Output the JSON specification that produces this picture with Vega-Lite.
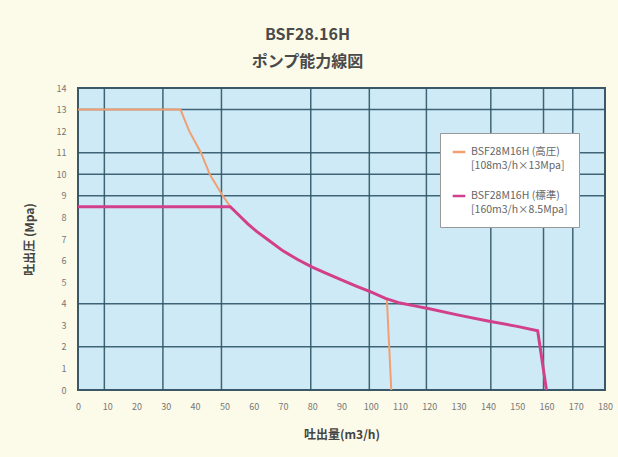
{
  "$schema": "https://vega.github.io/schema/vega-lite/v6.json",
  "autosize": "none",
  "width": 527,
  "height": 302,
  "padding": {"left": 78, "top": 88, "right": 13, "bottom": 67},
  "background": "#fcfae8",
  "title": {
    "text": ["BSF28.16H", "ポンプ能力線図"],
    "font": "Noto Sans CJK JP",
    "fontSize": 16,
    "fontWeight": "bold",
    "color": "#4a4a4a",
    "lineHeight": 27,
    "dx": -34,
    "offset": 14,
    "anchor": "middle"
  },
  "config": {
    "view": {"fill": "#cfeaf7", "stroke": "#3a5868", "strokeWidth": 2},
    "axis": {"labelFont": "Noto Sans CJK JP", "titleFont": "Noto Sans CJK JP"}
  },
  "datasets": {
    "curves": [
      {"s": "高圧", "o": 1, "x": 0, "y": 13},
      {"s": "高圧", "o": 2, "x": 35, "y": 13},
      {"s": "高圧", "o": 3, "x": 38, "y": 12},
      {"s": "高圧", "o": 4, "x": 42, "y": 11},
      {"s": "高圧", "o": 5, "x": 45, "y": 10},
      {"s": "高圧", "o": 6, "x": 49, "y": 9.1},
      {"s": "高圧", "o": 7, "x": 52, "y": 8.5},
      {"s": "高圧", "o": 8, "x": 55, "y": 8.1},
      {"s": "高圧", "o": 9, "x": 58, "y": 7.7},
      {"s": "高圧", "o": 10, "x": 61, "y": 7.35},
      {"s": "高圧", "o": 11, "x": 65, "y": 6.95},
      {"s": "高圧", "o": 12, "x": 70, "y": 6.45},
      {"s": "高圧", "o": 13, "x": 75, "y": 6.05},
      {"s": "高圧", "o": 14, "x": 80, "y": 5.7},
      {"s": "高圧", "o": 15, "x": 85, "y": 5.4},
      {"s": "高圧", "o": 16, "x": 90, "y": 5.1},
      {"s": "高圧", "o": 17, "x": 95, "y": 4.82},
      {"s": "高圧", "o": 18, "x": 100, "y": 4.55},
      {"s": "高圧", "o": 19, "x": 105.5, "y": 4.22},
      {"s": "高圧", "o": 20, "x": 107, "y": 0},
      {"s": "標準", "o": 1, "x": 0, "y": 8.5},
      {"s": "標準", "o": 2, "x": 52, "y": 8.5},
      {"s": "標準", "o": 3, "x": 55, "y": 8.1},
      {"s": "標準", "o": 4, "x": 58, "y": 7.7},
      {"s": "標準", "o": 5, "x": 61, "y": 7.35},
      {"s": "標準", "o": 6, "x": 65, "y": 6.95},
      {"s": "標準", "o": 7, "x": 70, "y": 6.45},
      {"s": "標準", "o": 8, "x": 75, "y": 6.05},
      {"s": "標準", "o": 9, "x": 80, "y": 5.7},
      {"s": "標準", "o": 10, "x": 85, "y": 5.4},
      {"s": "標準", "o": 11, "x": 90, "y": 5.1},
      {"s": "標準", "o": 12, "x": 95, "y": 4.82},
      {"s": "標準", "o": 13, "x": 100, "y": 4.55},
      {"s": "標準", "o": 14, "x": 105, "y": 4.25},
      {"s": "標準", "o": 15, "x": 110, "y": 4.03},
      {"s": "標準", "o": 16, "x": 115, "y": 3.9},
      {"s": "標準", "o": 17, "x": 120, "y": 3.77},
      {"s": "標準", "o": 18, "x": 130, "y": 3.47},
      {"s": "標準", "o": 19, "x": 140, "y": 3.2},
      {"s": "標準", "o": 20, "x": 150, "y": 2.95},
      {"s": "標準", "o": 21, "x": 157, "y": 2.75},
      {"s": "標準", "o": 22, "x": 160, "y": 0}
    ],
    "gridx": [{"gx": 9}, {"gx": 29}, {"gx": 49}, {"gx": 79.5}, {"gx": 99.5}, {"gx": 119}, {"gx": 141}, {"gx": 159}, {"gx": 169}],
    "gridy": [{"gy": 2}, {"gy": 4}, {"gy": 9}, {"gy": 10}, {"gy": 11}, {"gy": 13}]
  },
  "layer": [
    {
      "data": {"name": "gridx"},
      "mark": {"type": "rule", "color": "#2f5566", "strokeWidth": 1.5, "opacity": 0.9},
      "encoding": {
        "x": {"field": "gx", "type": "quantitative", "scale": {"domain": [0, 180], "nice": false, "zero": false},
          "axis": {"values": [0,10,20,30,40,50,60,70,80,90,100,110,120,130,140,150,160,170,180], "labelOverlap": false, "labelFlush": false, "grid": false, "ticks": false, "domain": false, "labelFontSize": 9, "labelColor": "#777", "labelPadding": 12, "title": "吐出量(m3/h)", "titleFontSize": 12, "titleFontWeight": "bold", "titleColor": "#444", "titlePadding": 18}}
      }
    },
    {
      "data": {"name": "gridy"},
      "mark": {"type": "rule", "color": "#2f5566", "strokeWidth": 1.5, "opacity": 0.9},
      "encoding": {
        "y": {"field": "gy", "type": "quantitative", "scale": {"domain": [0, 14], "nice": false},
          "axis": {"values": [0,1,2,3,4,5,6,7,8,9,10,11,12,13,14], "labelOverlap": false, "labelFlush": false, "grid": false, "ticks": false, "domain": false, "labelFontSize": 9, "labelColor": "#777", "labelPadding": 12, "title": "吐出圧 (Mpa)", "titleFontSize": 12, "titleFontWeight": "bold", "titleColor": "#444", "titlePadding": 20}}
      }
    },
    {
      "data": {"name": "curves"},
      "transform": [{"filter": "datum.s === '高圧'"}],
      "mark": {"type": "line", "strokeWidth": 2},
      "encoding": {
        "x": {"field": "x", "type": "quantitative",
          "axis": {"values": [0,10,20,30,40,50,60,70,80,90,100,110,120,130,140,150,160,170,180], "labelOverlap": false, "labelFlush": false, "grid": false, "ticks": false, "domain": false, "labelFontSize": 9, "labelColor": "#777", "labelPadding": 12, "title": "吐出量(m3/h)", "titleFontSize": 12, "titleFontWeight": "bold", "titleColor": "#444", "titlePadding": 18}},
        "y": {"field": "y", "type": "quantitative",
          "axis": {"values": [0,1,2,3,4,5,6,7,8,9,10,11,12,13,14], "labelOverlap": false, "labelFlush": false, "grid": false, "ticks": false, "domain": false, "labelFontSize": 9, "labelColor": "#777", "labelPadding": 12, "title": "吐出圧 (Mpa)", "titleFontSize": 12, "titleFontWeight": "bold", "titleColor": "#444", "titlePadding": 20}},
        "order": {"field": "o", "type": "quantitative"},
        "color": {
          "field": "s", "type": "nominal",
          "scale": {"domain": ["高圧", "標準"], "range": ["#f0a070", "#d2408c"]},
          "legend": {
            "title": null,
            "orient": "none",
            "legendX": 362,
            "legendY": 45,
            "labelExpr": "datum.label === '高圧' ? ['BSF28M16H (高圧)', '[108m3/h×13Mpa]'] : ['BSF28M16H (標準)', '[160m3/h×8.5Mpa]']",
            "labelFont": "Noto Sans CJK JP",
            "labelFontSize": 10.5,
            "labelColor": "#666",
            "symbolType": "stroke",
            "symbolSize": 160,
            "symbolStrokeWidth": 2.5,
            "rowPadding": 16,
            "fillColor": "#ffffff",
            "strokeColor": "#999999",
            "padding": 11,
            "encode": {"labels": {"update": {"lineHeight": {"value": 14}}}}
          }
        }
      }
    },
    {
      "data": {"name": "curves"},
      "transform": [{"filter": "datum.s === '標準'"}],
      "mark": {"type": "line", "strokeWidth": 3},
      "encoding": {
        "x": {"field": "x", "type": "quantitative",
          "axis": {"values": [0,10,20,30,40,50,60,70,80,90,100,110,120,130,140,150,160,170,180], "labelOverlap": false, "labelFlush": false, "grid": false, "ticks": false, "domain": false, "labelFontSize": 9, "labelColor": "#777", "labelPadding": 12, "title": "吐出量(m3/h)", "titleFontSize": 12, "titleFontWeight": "bold", "titleColor": "#444", "titlePadding": 18}},
        "y": {"field": "y", "type": "quantitative",
          "axis": {"values": [0,1,2,3,4,5,6,7,8,9,10,11,12,13,14], "labelOverlap": false, "labelFlush": false, "grid": false, "ticks": false, "domain": false, "labelFontSize": 9, "labelColor": "#777", "labelPadding": 12, "title": "吐出圧 (Mpa)", "titleFontSize": 12, "titleFontWeight": "bold", "titleColor": "#444", "titlePadding": 20}},
        "order": {"field": "o", "type": "quantitative"},
        "color": {"field": "s", "type": "nominal"}
      }
    }
  ]
}
